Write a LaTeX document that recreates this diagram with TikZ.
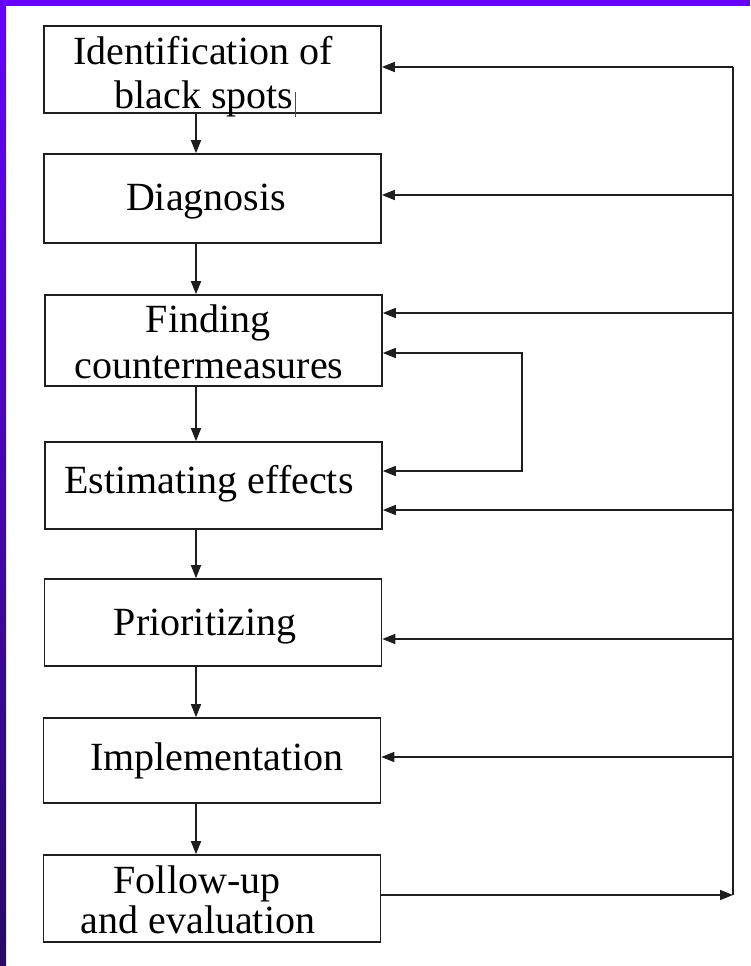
\documentclass[tikz,border=0pt]{standalone}
\usepackage{fontspec}
\setmainfont{Liberation Serif}
\usetikzlibrary{arrows.meta}
\definecolor{bandtop}{RGB}{102,0,255}
\definecolor{bandbot}{RGB}{40,10,105}
\definecolor{linec}{RGB}{30,30,30}
\tikzset{
  stepbox/.style={draw=linec, line width=1.6pt, minimum width=337pt, inner sep=0pt},
  txt/.style={anchor=base, inner sep=0pt, font=\fontsize{40}{44}\selectfont},
  arr/.style={draw=linec, line width=1.6pt, -{Triangle[length=13pt,width=10pt]}},
  arrboth/.style={draw=linec, line width=1.6pt, {Triangle[length=13pt,width=10pt]}-{Triangle[length=13pt,width=10pt]}},
  plain/.style={draw=linec, line width=1.6pt}
}
\begin{document}
\begin{tikzpicture}[x=1pt,y=-1pt]
\useasboundingbox (0,0) rectangle (750,966);
\fill[white] (0,0) rectangle (750,966);
\shade[top color=bandtop, bottom color=bandbot] (0,0) rectangle (6,966);
\fill[bandtop] (0,0) rectangle (750,6);

\node[stepbox, minimum height=87pt] (b1) at (212.5,69.5) {};
\node[stepbox, minimum height=89pt] (b2) at (212.5,198.5) {};
\node[stepbox, minimum height=91pt] (b3) at (213.5,340.5) {};
\node[stepbox, minimum height=87pt] (b4) at (213.5,485.5) {};
\node[stepbox, minimum height=87pt] (b5) at (213,622.5) {};
\node[stepbox, minimum height=85pt] (b6) at (212,760.5) {};
\node[stepbox, minimum height=87pt] (b7) at (212,898.5) {};

\node[txt] (t1a) at (203,65) {Identification of};
\node[txt] (t1b) at (204,108) {black spots};
\node[txt] (t2) at (206,210) {Diagnosis};
\node[txt] (t3a) at (208,332) {Finding};
\node[txt] (t3b) at (209,378) {countermeasures};
\node[txt] (t4) at (209,493) {Estimating effects};
\node[txt] (t5) at (205,635) {Prioritizing};
\node[txt] (t6) at (217,770) {Implementation};
\node[txt] (t7a) at (197,893) {Follow-up};
\node[txt] (t7b) at (198,933) {and evaluation};

% stray cursor mark
\draw[line width=1pt, black!70] (295,92) -- (295,117);

% vertical flow
\coordinate (col) at (196,0);
\draw[arr] (b1.south -| col) -- (b2.north -| col);
\draw[arr] (b2.south -| col) -- (b3.north -| col);
\draw[arr] (b3.south -| col) -- (b4.north -| col);
\draw[arr] (b4.south -| col) -- (b5.north -| col);
\draw[arr] (b5.south -| col) -- (b6.north -| col);
\draw[arr] (b6.south -| col) -- (b7.north -| col);

% feedback bus
\coordinate (f1) at (733,67);
\coordinate (f2) at (733,195);
\coordinate (f3) at (733,313);
\coordinate (f4) at (733,510);
\coordinate (f5) at (733,639);
\coordinate (f6) at (733,757);
\coordinate (f7) at (733,895);
\draw[plain] (f1) -- (f7);
\draw[arr] (b7.east |- f7) -- (f7);
\draw[arr] (f1) -- (f1 -| b1.east);
\draw[arr] (f2) -- (f2 -| b2.east);
\draw[arr] (f3) -- (f3 -| b3.east);
\draw[arr] (f4) -- (f4 -| b4.east);
\draw[arr] (f5) -- (f5 -| b5.east);
\draw[arr] (f6) -- (f6 -| b6.east);

% inner loop
\coordinate (l1) at (522,353);
\coordinate (l2) at (522,471);
\draw[arrboth] (l1 -| b3.east) -- (l1) -- (l2) -- (l2 -| b4.east);
\end{tikzpicture}
\end{document}
